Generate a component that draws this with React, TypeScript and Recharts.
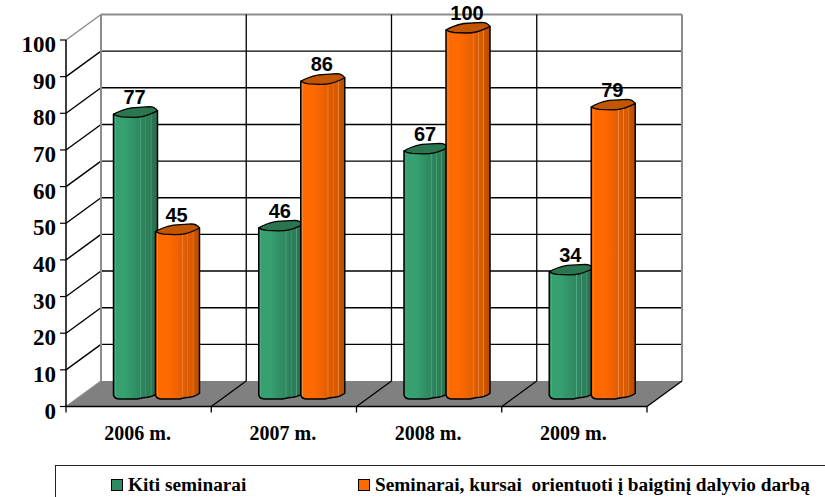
import React from 'react';
import { BarChart, Bar, XAxis, YAxis, CartesianGrid, Legend, LabelList } from 'recharts';

const categories = ['2006 m.', '2007 m.', '2008 m.', '2009 m.'];
const kitiValues = [77, 46, 67, 34];
const orientuotiValues = [45, 86, 100, 79];
const yTicks = [0, 10, 20, 30, 40, 50, 60, 70, 80, 90, 100];

const KITI_NAME = 'Kiti seminarai';
const ORIENTUOTI_NAME = 'Seminarai, kursai  orientuoti į baigtinį dalyvio darbą';

const chartData = categories.map((name, i) => ({
  name,
  kiti: kitiValues[i],
  orientuoti: orientuotiValues[i],
}));

// depth of the fake 3D box: back wall offset from the front axes
const DEPTH_X = 35;
const DEPTH_Y = 25.5;
// bars stand half way into the box
const BAR_DX = 17.5;
const BAR_DY = 13;

const SERIF = '"Liberation Serif", serif';
const SANS = '"Liberation Sans", sans-serif';
const WALL = '#8c8c8c';
const FLOOR = '#808080';

// band colours left to right, with the thin light stripes of the Excel cylinder
const bandStops = (c: string[], light: string) => [
  [0, c[1]], [0.03, c[1]], [0.04, light], [0.05, light], [0.06, c[0]], [0.28, c[0]], [0.42, c[1]],
  [0.6, c[2]], [0.62, light], [0.635, c[2]], [0.72, c[3]], [0.735, light], [0.75, c[3]],
  [0.84, c[3]], [0.855, light], [0.87, c[4]], [1, c[5]],
] as [number, string][];

const GREEN_BANDS = bandStops(['#35a070', '#329567', '#2e8860', '#2c7f59', '#2a7753', '#286d4d'], '#52a885');
const ORANGE_BANDS = bandStops(['#ff6a00', '#f56500', '#e45e00', '#da5a00', '#cb5400', '#b84c00'], '#e98a45');

const Gradient = ({ id, stops }: { id: string; stops: [number, string][] }) => (
  <linearGradient id={id} x1="0" y1="0" x2="1" y2="0">
    {stops.map(([o, c], i) => (
      <stop key={i} offset={o} stopColor={c} />
    ))}
  </linearGradient>
);

// Cylinder drawn from the rectangle the Bar computes
const Cylinder = (props: any) => {
  const { x, y, width, height, bodyFill, topFill } = props;
  const l = x + BAR_DX;
  const w = width;
  const k = w / 44;
  const top = y - BAR_DY;
  const base = y + height - BAR_DY;
  const px = (v: number) => l + v * k;
  const body = `M${px(0)},${top + 3} L${px(0)},${base + 1.5} Q${px(1)},${base + 5.5} ${px(6)},${base + 5.5}
    L${px(24)},${base + 5.5} Q${px(30)},${base + 4} ${px(34)},${base + 3.8} Q${px(41)},${base + 2.5} ${px(44)},${base - 0.3}
    L${px(44)},${top - 0.6} Z`;
  const cap = `M${px(0)},${top + 3} Q${px(6)},${top - 1} ${px(18)},${top - 3.5} L${px(36)},${top - 4.6}
    Q${px(41)},${top - 4.6} ${px(44)},${top - 0.6} Q${px(36)},${top + 3.6} ${px(30)},${top + 5}
    Q${px(26)},${top + 6} ${px(20)},${top + 6} L${px(8)},${top + 5.5} Q${px(3)},${top + 5} ${px(0)},${top + 3} Z`;
  return (
    <g>
      <path d={body} fill={bodyFill} stroke="#000" strokeWidth={1.5} strokeLinejoin="round" />
      <path d={cap} fill={topFill} stroke="#000" strokeWidth={1.3} strokeLinejoin="round" />
    </g>
  );
};

const ValueLabel = (props: any) => {
  const { x, y, width, value } = props;
  return (
    <text
      x={x + width / 2 + BAR_DX - 1}
      y={y - BAR_DY - 7}
      textAnchor="middle"
      fontFamily={SANS}
      fontWeight="bold"
      fontSize={20}
      fill="#000"
    >
      {value}
    </text>
  );
};

// each value gridline: side wall diagonal + line along the back wall
const HorizontalLine = (props: any) => {
  const { x1, x2, y1, index } = props;
  const backX1 = x1 + DEPTH_X;
  const backX2 = x2 + DEPTH_X;
  const backY = y1 - DEPTH_Y;
  const isFloor = Math.abs(y1 - 406.5) < 1;
  const isTop = Math.abs(y1 - 40) < 1;
  if (isFloor) {
    return (
      <g key={`h-${index}`}>
        <polygon points={`${x1},${y1} ${x2},${y1} ${backX2},${backY} ${backX1},${backY}`} fill={FLOOR} />
        <line x1={x1} y1={y1} x2={backX1} y2={backY} stroke={WALL} strokeWidth={1.2} />
      </g>
    );
  }
  if (isTop) {
    return (
      <g key={`h-${index}`}>
        <line x1={x1} y1={y1} x2={backX1} y2={backY} stroke={WALL} strokeWidth={1.5} />
        <line x1={backX1} y1={backY} x2={backX2} y2={backY} stroke={WALL} strokeWidth={2} />
      </g>
    );
  }
  return (
    <g key={`h-${index}`}>
      <line x1={x1} y1={y1} x2={backX1} y2={backY} stroke="#000" strokeWidth={1.4} />
      <line x1={backX1} y1={backY} x2={backX2} y2={backY} stroke="#000" strokeWidth={1.4} />
    </g>
  );
};

// each category boundary: back wall line, floor diagonal, tick under the front edge
const VerticalLine = (props: any) => {
  const { x1, y1, y2, index } = props;
  const backX = x1 + DEPTH_X;
  const outer = index === 0 || index === categories.length;
  return (
    <g key={`v-${index}`}>
      <line x1={backX} y1={y1 - DEPTH_Y} x2={backX} y2={y2 - DEPTH_Y} stroke={outer ? WALL : '#000'} strokeWidth={outer ? 2 : 1.3} />
      {index > 0 && <line x1={x1} y1={y2} x2={backX} y2={y2 - DEPTH_Y} stroke="#000" strokeWidth={1.3} />}
      <line x1={x1} y1={y2} x2={x1} y2={y2 + 6} stroke="#000" strokeWidth={1.3} />
    </g>
  );
};

const LegendBox = ({ payload }: any) => (
  <div style={{ position: 'relative', height: '100%' }}>
    {(payload || []).map((item: any, i: number) => (
      <div
        key={item.value}
        style={{
          position: 'absolute',
          left: i === 0 ? 55 : 302,
          top: 8,
          display: 'flex',
          alignItems: 'center',
          whiteSpace: 'pre',
          fontFamily: SERIF,
          fontWeight: 'bold',
          fontSize: 19.3,
          lineHeight: '22px',
          color: '#000',
        }}
      >
        <span
          style={{
            display: 'inline-block',
            width: 10,
            height: 10,
            marginRight: 5,
            background: item.color,
            border: '1px solid #000',
          }}
        />
        {item.value}
      </div>
    ))}
  </div>
);

export default function App() {
  return (
    <div style={{ position: 'absolute', left: 0, top: 0, width: 825, height: 497, overflow: 'hidden', background: '#fff' }}>
      <BarChart
        width={825}
        height={497}
        data={chartData}
        margin={{ top: 40, right: 178, bottom: 0, left: 0 }}
        barSize={44}
        barGap={-2}
      >
        <defs>
          <Gradient id="greenBody" stops={GREEN_BANDS} />
          <Gradient id="orangeBody" stops={ORANGE_BANDS} />
        </defs>
        <CartesianGrid
          horizontal={HorizontalLine}
          vertical={VerticalLine}
          verticalCoordinatesGenerator={({ offset }: any) =>
            [0, 1, 2, 3, 4].map((i) => offset.left + (i * offset.width) / categories.length)
          }
        />
        <XAxis
          dataKey="name"
          height={90.5}
          axisLine={{ stroke: '#000', strokeWidth: 1.5 }}
          tickLine={false}
          tickMargin={13}
          interval={0}
          tick={{ fontFamily: SERIF, fontWeight: 'bold', fontSize: 20, fill: '#000', dx: -1 }}
        />
        <YAxis
          width={66}
          domain={[0, 100]}
          ticks={yTicks}
          interval={0}
          axisLine={{ stroke: '#000', strokeWidth: 1.5 }}
          tickLine={{ stroke: '#000', strokeWidth: 1.2 }}
          tickSize={6}
          tickMargin={4}
          tick={{ fontFamily: SERIF, fontWeight: 'bold', fontSize: 23, fill: '#000', dy: 4 }}
        />
        <Legend
          layout="horizontal"
          verticalAlign="middle"
          align="center"
          content={<LegendBox />}
          wrapperStyle={{
            position: 'absolute',
            left: 55,
            top: 465,
            width: 790,
            height: 50,
            border: '1px solid #222',
            boxSizing: 'border-box',
          }}
        />
        <Bar
          dataKey="kiti"
          name={KITI_NAME}
          fill="#2f8a61"
          isAnimationActive={false}
          shape={<Cylinder bodyFill="url(#greenBody)" topFill="#2a7650" />}
        >
          <LabelList dataKey="kiti" content={<ValueLabel />} />
        </Bar>
        <Bar
          dataKey="orientuoti"
          name={ORIENTUOTI_NAME}
          fill="#ff6a00"
          isAnimationActive={false}
          shape={<Cylinder bodyFill="url(#orangeBody)" topFill="#c25500" />}
        >
          <LabelList dataKey="orientuoti" content={<ValueLabel />} />
        </Bar>
      </BarChart>
    </div>
  );
}
